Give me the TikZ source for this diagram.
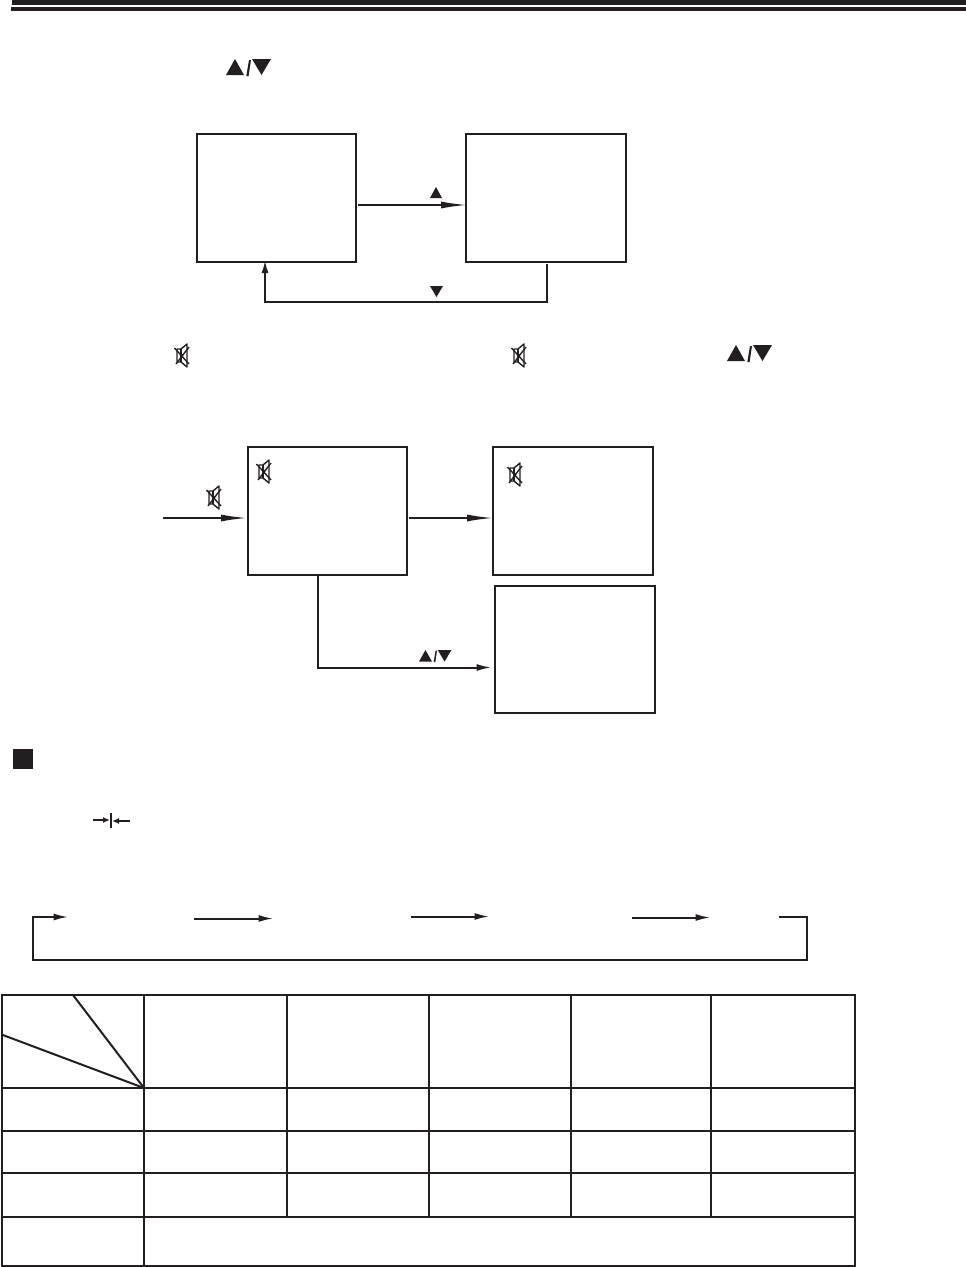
\documentclass[tikz,border=0pt]{standalone}
\usetikzlibrary{arrows.meta}
\tikzset{
  ln/.style={line width=2pt,draw=ink},
  box/.style={draw=ink,line width=2pt,minimum width=#1,minimum height=128pt,inner sep=0pt,outer sep=0pt},
  arr/.style={ln,-{Latex[length=27pt,width=7pt]},shorten >=-3pt},
  arrs/.style={ln,-{Latex[length=13pt,width=7pt]},shorten >=-2pt},
  arrm/.style={ln,-{Latex[length=15pt,width=7pt]},shorten >=-1.5pt},
  smallarr/.style={draw=ink,line width=1.7pt,-{Latex[length=7pt,width=6pt]},shorten >=-1pt},
  frame/.style={line width=2pt,draw=ink,line cap=rect},
  mutestroke/.style={draw=ink,line width=1.4pt,line join=round}
}
\definecolor{ink}{HTML}{231F20}
% triangle pair at left x, top y, scale
\newcommand{\updownpair}[3]{%
  \begin{scope}[shift={(#1,#2)},scale=#3]
    \fill[ink] (0,16)--(9,0)--(18,16)--cycle;
    \fill[ink] (26,0)--(45,0)--(35.5,16)--cycle;
    \fill[ink] (20.3,17)--(22.6,17)--(25,1)--(23,1)--cycle;
  \end{scope}}
\newcommand{\mutesign}[2]{%
  \begin{scope}[shift={(#1,#2)}]
    \draw[mutestroke] (-5,-7)--(-1,-7)--(5,-12)--(5,11)--(-1,6)--(-5,6)--cycle;
    \draw[mutestroke] (-1,-7)--(-1,6);
    \draw[mutestroke] (-7.5,-8)--(7,8);
    \draw[mutestroke] (-6,8)--(7,-9);
    \fill[ink] (-2.5,-2.5) rectangle (0.5,2);
  \end{scope}}
\begin{document}
\begin{tikzpicture}[x=1pt,y=-1pt]
\useasboundingbox[fill=white] (0,0) rectangle (966,1267);
% header bars
\fill[ink] (12,0) rectangle (966,5);
\fill[ink] (11,7) rectangle (966,11.3);
\updownpair{226}{59}{1}
\updownpair{727}{345}{1}
\updownpair{419}{650}{0.72}
% first diagram
\node[box=159pt,anchor=north west] (b1) at (197,134) {};
\node[box=160pt,anchor=north west] (b2) at (466,134) {};
\coordinate (a1s) at (358,205);
\coordinate (a1e) at (465,205);
\draw[arr] (a1s) -- (a1e);
\fill[ink] (430,198)--(436,187)--(442,198)--cycle;
\coordinate (r1) at (547,264);
\coordinate (r2) at (265,262);
\draw[arrs] (r1) -- (547,302) -- (265,302) -- (r2);
\fill[ink] (430,286)--(443,286)--(436.5,297)--cycle;
\mutesign{182}{356}
\mutesign{519}{356}
% second diagram
\node[box=159pt,anchor=north west] (b3) at (248,447) {};
\node[box=160pt,anchor=north west] (b4) at (493,447) {};
\node[box=160pt,minimum height=127pt,anchor=north west] (b5) at (495,586) {};
\mutesign{264}{472}
\mutesign{515}{475}
\mutesign{214}{498}
\coordinate (in) at (163,518);
\coordinate (ine) at (245,518);
\draw[arr] (in) -- (ine);
\coordinate (m1) at (409,518);
\coordinate (m2) at (491,518);
\draw[arr] (m1) -- (m2);
\coordinate (d1) at (318,575);
\coordinate (d2) at (490,667.5);
\draw[arrm] (d1) -- (318,667.5) -- (d2);
% section marker
\node[fill=ink,minimum size=20pt,inner sep=0pt,anchor=north west] (sq) at (13,749) {};
% width symbol
\coordinate (w1) at (93,820);
\coordinate (w2) at (109,820);
\coordinate (w3) at (130,821);
\coordinate (w4) at (113,821);
\draw[smallarr] (w1) -- (w2);
\draw[smallarr] (w3) -- (w4);
\draw[ink,line width=1.8pt] (110.7,813) -- (110.7,828);
% cycle
\coordinate (c1) at (67,917);
\coordinate (c2) at (779,917);
\draw[arrm] (c2) -- (807,917) -- (807,960) -- (33,960) -- (33,917) -- (c1);
\coordinate (c3) at (194,918.5);
\coordinate (c4) at (272,918.5);
\draw[arrm] (c3) -- (c4);
\coordinate (c5) at (411,916.5);
\coordinate (c6) at (488,916.5);
\draw[arrm] (c5) -- (c6);
\coordinate (c7) at (632,917.5);
\coordinate (c8) at (709,917.5);
\draw[arrm] (c7) -- (c8);
% table
\draw[frame] (1.5,995) rectangle (855,1266);
\foreach \yy in {1088,1131,1173,1217} \draw[frame] (1.5,\yy) -- (855,\yy);
\draw[frame] (144,995) -- (144,1266);
\foreach \xx in {287,429,571,711} \draw[frame] (\xx,995) -- (\xx,1217);
\draw[ln] (73,995) -- (144,1088);
\draw[ln] (1.5,1034.5) -- (144,1088);
\end{tikzpicture}
\end{document}
